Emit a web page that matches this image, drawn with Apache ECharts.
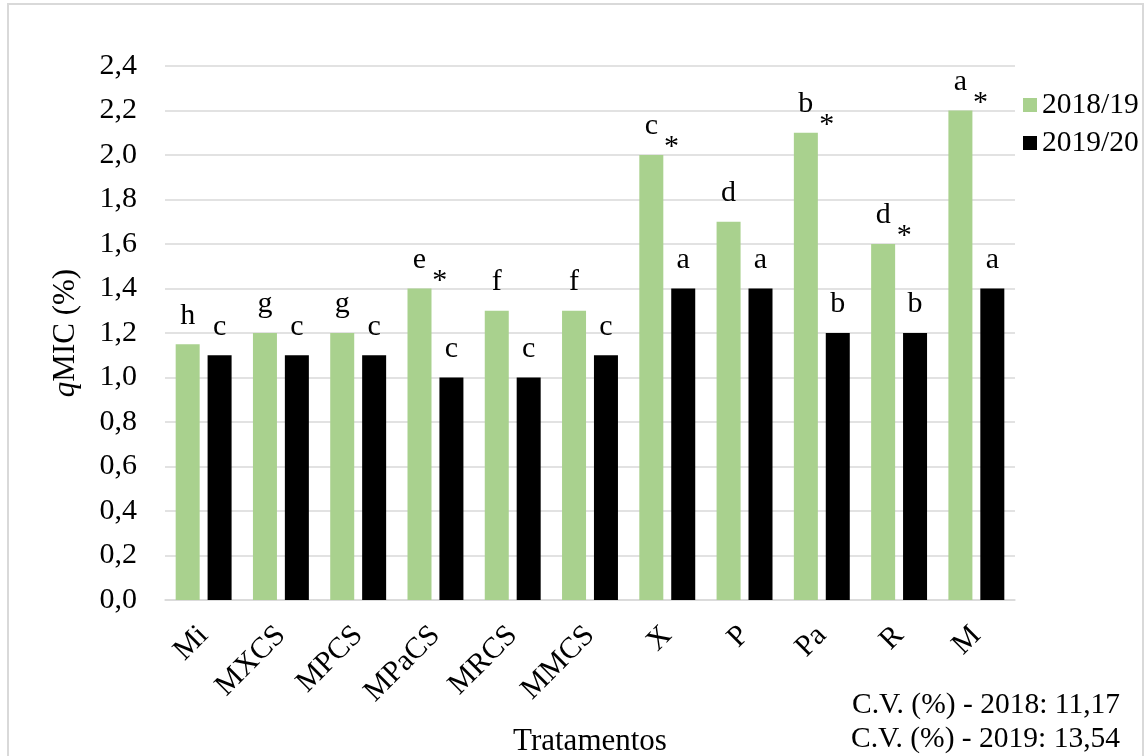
<!DOCTYPE html>
<html>
<head>
<meta charset="utf-8">
<script src="https://cdn.jsdelivr.net/npm/echarts@6/dist/echarts.min.js"></script>
<style>
  html, body { margin: 0; padding: 0; background: #ffffff; }
  #chart { width: 1147px; height: 756px; }
</style>
</head>
<body>
<div id="chart"></div>
<script>
// Treatments and qMIC values per season
const categories = ['Mi', 'MXCS', 'MPCS', 'MPaCS', 'MRCS', 'MMCS', 'X', 'P', 'Pa', 'R', 'M'];
const season1Name = '2018/19';
const season2Name = '2019/20';
const season1Values = [1.15, 1.2, 1.2, 1.4, 1.3, 1.3, 2.0, 1.7, 2.1, 1.6, 2.2];
const season2Values = [1.1, 1.1, 1.1, 1.0, 1.0, 1.1, 1.4, 1.4, 1.2, 1.2, 1.4];
// Mean-comparison letters and significance marks between seasons
const season1Letters = ['h', 'g', 'g', 'e', 'f', 'f', 'c', 'd', 'b', 'd', 'a'];
const season2Letters = ['c', 'c', 'c', 'c', 'c', 'c', 'a', 'a', 'b', 'b', 'a'];
const season1Star = [false, false, false, true, false, false, true, false, true, true, true];
const yTicks = { min: 0, max: 2.4, interval: 0.2 };
const cvLines = ['C.V. (%) - 2018: 11,17', 'C.V. (%) - 2019: 13,54'];

const FONT = '"Liberation Serif", "Times New Roman", serif';
const FS = 30;      // tick labels and bar letters
const FS_SMALL = 29.5; // legend and C.V. notes
const FS_TITLE = 31;   // axis titles

// Letter sits above; the asterisk (if any) sits to its right and lower.
function labelRich() {
  const base = { fontFamily: FONT, fontSize: FS, lineHeight: FS };
  return {
    p: Object.assign({}, base, { color: 'rgba(0,0,0,0)', padding: [21, 6, 0, 0] }),
    a: Object.assign({}, base, { color: '#000', padding: [0, 0, 21, 0] }),
    s: Object.assign({}, base, { color: '#000', padding: [21, 0, 0, 6] }),
    t: Object.assign({}, base, { color: 'rgba(0,0,0,0)', padding: [21, 0, 0, 6] })
  };
}

function makeData(values, letters, stars) {
  return values.map((v, i) => ({
    value: v,
    label: {
      formatter: '{p|*}{a|' + letters[i] + '}' + (stars && stars[i] ? '{s|*}' : '{t|*}')
    }
  }));
}

const chart = echarts.init(document.getElementById('chart'), null, { renderer: 'canvas' });

chart.setOption({
  animation: false,
  backgroundColor: '#ffffff',
  textStyle: { fontFamily: FONT },
  graphic: [
    {
      type: 'rect',
      shape: { x: 8, y: 4, width: 1135, height: 760 },
      style: { fill: 'none', stroke: '#d9d9d9', lineWidth: 2 },
      silent: true
    },
    {
      type: 'text',
      right: 27,
      top: 690,
      style: { text: cvLines[0], font: FS_SMALL + 'px ' + FONT, fill: '#000', textAlign: 'right' }
    },
    {
      type: 'text',
      right: 27,
      top: 724,
      style: { text: cvLines[1], font: FS_SMALL + 'px ' + FONT, fill: '#000', textAlign: 'right' }
    }
  ],
  legend: {
    orient: 'vertical',
    left: 1023,
    top: 90,
    padding: 0,
    itemWidth: 14,
    itemHeight: 14,
    itemGap: 8,
    icon: 'rect',
    textStyle: { fontFamily: FONT, fontSize: FS_SMALL, color: '#000' },
    data: [season1Name, season2Name]
  },
  grid: { left: 165, right: 132, top: 66, bottom: 156, containLabel: false, outerBoundsMode: 'none' },
  xAxis: {
    type: 'category',
    data: categories,
    name: 'Tratamentos',
    nameLocation: 'middle',
    nameGap: 126,
    nameTextStyle: { fontFamily: FONT, fontSize: FS_TITLE, color: '#000' },
    axisLine: { show: true, lineStyle: { color: '#d9d9d9', width: 1.5 } },
    axisTick: { show: false },
    axisLabel: { rotate: 45, margin: 31, fontFamily: FONT, fontSize: FS, color: '#000', interval: 0 }
  },
  yAxis: {
    type: 'value',
    min: yTicks.min,
    max: yTicks.max,
    interval: yTicks.interval,
    name: '{i|q}{n|MIC (%)}',
    nameLocation: 'middle',
    nameGap: 84,
    nameTextStyle: {
      rich: {
        i: { fontFamily: FONT, fontSize: FS_TITLE, fontStyle: 'italic', color: '#000' },
        n: { fontFamily: FONT, fontSize: FS_TITLE, color: '#000' }
      }
    },
    axisLine: { show: false },
    axisTick: { show: false },
    splitLine: { lineStyle: { color: '#d9d9d9', width: 1.5 } },
    axisLabel: {
      margin: 28,
      fontFamily: FONT,
      fontSize: FS,
      color: '#000',
      formatter: v => v.toFixed(1).replace('.', ',')
    }
  },
  series: [
    {
      name: season1Name,
      type: 'bar',
      barWidth: 24,
      barGap: '33%',
      itemStyle: { color: '#a9d18e' },
      label: { show: true, position: 'top', distance: 3, rich: labelRich() },
      data: makeData(season1Values, season1Letters, season1Star)
    },
    {
      name: season2Name,
      type: 'bar',
      barWidth: 24,
      barGap: '33%',
      itemStyle: { color: '#000000' },
      label: { show: true, position: 'top', distance: 3, rich: labelRich() },
      data: makeData(season2Values, season2Letters, null)
    }
  ]
});
</script>
</body>
</html>
